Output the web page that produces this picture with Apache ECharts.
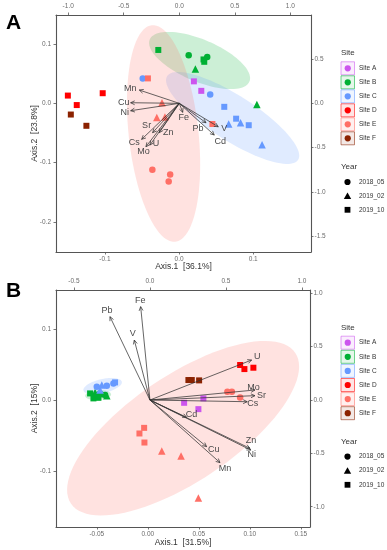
<!DOCTYPE html>
<html><head><meta charset="utf-8">
<script src="https://cdn.jsdelivr.net/npm/echarts@6/dist/echarts.min.js"></script>
<style>html,body{margin:0;padding:0;background:#fff}#c{width:387px;height:550px}</style>
</head><body><div id="c"></div>
<script>
// ---------- DATA ----------
const sites = ['Site A','Site B','Site C','Site D','Site E','Site F'];
const years = ['2018_05','2019_02','2019_10'];

// Panel A : sample scores
const aX = [-0.028, 0.013, 0.022, 0.033, 0.038, 0.034, 0.105,
            -0.049, 0.042, 0.061, 0.077, 0.067, 0.083, 0.094, 0.112,
            0.020, 0.030,
            -0.150, -0.138, -0.103,
            -0.042, -0.023, -0.030, -0.019, -0.036, -0.012, -0.014, 0.045,
            -0.146, -0.125];
const aY = [0.090, 0.081, 0.058, 0.074, 0.078, 0.070, -0.002,
            0.042, 0.015, -0.006, -0.026, -0.035, -0.033, -0.037, -0.070,
            0.037, 0.021,
            0.013, -0.003, 0.017,
            0.042, 0.001, -0.024, -0.023, -0.112, -0.120, -0.132, -0.035,
            -0.019, -0.038];
const aSite = [1,1,1,1,1,1,1, 2,2,2,2,2,2,2,2, 0,0, 3,3,3, 4,4,4,4,4,4,4,4, 5,5];
const aYear = [2,0,1,2,0,2,1, 0,0,2,2,1,1,2,1, 2,2, 2,2,2, 2,1,1,1,0,0,0,2, 2,2];

// Panel A : variable loadings (arrows)
const aVar = ['Mn','Cu','Ni','Fe','Pb','V','Cd','Sr','Zn','Cs','Mo','U'];
const aVarX = [-0.360,-0.438,-0.438, 0.031, 0.241, 0.351, 0.315,-0.240,-0.180,-0.339,-0.300,-0.264];
const aVarY = [ 0.150, 0.007,-0.083,-0.101,-0.219,-0.264,-0.357,-0.331,-0.331,-0.406,-0.489,-0.470];

// Panel A : ellipses [cx, cy, axisU_x, axisU_y, axisV_x, axisV_y, site]
const aEll = [
  [0.0277, 0.0722, 0.0672,-0.0356,-0.0111,-0.0326, 1],
  [0.0723,-0.0248, 0.0883,-0.0707,-0.0165,-0.0321, 2],
  [-0.0209,-0.0509, 0.0158,-0.1827,-0.0468,-0.0063, 4]
];

// Panel B : sample scores
const bX = [-0.0566,-0.0517,-0.0468,-0.0419,-0.0533,-0.0484,-0.0402,
            -0.0500,-0.0451,-0.0402,-0.0337,-0.0321,-0.0468,
            0.0356, 0.0545, 0.0496,
            0.0905, 0.0947, 0.1035,
            0.0780, 0.0824, 0.0905,-0.0036,-0.0082,-0.0033, 0.0137, 0.0326, 0.0496,
            0.0398, 0.0431, 0.0503];
const bY = [0.0097, 0.0111, 0.0083, 0.0073, 0.0027, 0.0035, 0.0063,
            0.0190, 0.0214, 0.0204, 0.0238, 0.0252, 0.0144,
           -0.0035, 0.0027,-0.0124,
            0.0496, 0.0439, 0.0458,
            0.0120, 0.0120, 0.0040,-0.0387,-0.0466,-0.0593,-0.0711,-0.0782,-0.1373,
            0.0285, 0.0285, 0.0280];
const bSite = [1,1,1,1,1,1,1, 2,2,2,2,2,2, 0,0,0, 3,3,3, 4,4,4,4,4,4,4,4,4, 5,5,5];
const bYear = [2,1,2,0,2,2,1, 0,1,0,0,2,1, 2,2,2, 2,2,2, 0,0,0,2,2,2,1,1,1, 2,2,2];

const bVar = ['Pb','Fe','V','U','Mo','Sr','Cs','Cd','Cu','Mn','Zn','Ni'];
const bVarX = [-0.263,-0.061,-0.103, 0.669, 0.691, 0.691, 0.640, 0.241, 0.373, 0.461, 0.658, 0.664];
const bVarY = [ 0.781, 0.875, 0.562, 0.375, 0.094, 0.041,-0.016,-0.162,-0.437,-0.587,-0.453,-0.469];

const bEll = [
  [-0.0487, 0.0073, 0.0127, 0.0010, 0.0000,-0.0070, 1],
  [-0.0443, 0.0200, 0.0188, 0.0061, 0.0015,-0.0096, 2],
  [ 0.0346,-0.0392, 0.1100, 0.1058, 0.0289,-0.0620, 4]
];

// tick values
const aBottomTicks = [-0.1, 0, 0.1];
const aLeftTicks = [-0.2, -0.1, 0, 0.1];
const aTopTicks = [-1, -0.5, 0, 0.5, 1];
const aRightTicks = [-1.5, -1, -0.5, 0, 0.5];
const bBottomTicks = [-0.05, 0, 0.05, 0.10, 0.15];
const bLeftTicks = [-0.1, 0, 0.1];
const bTopTicks = [-0.5, 0, 0.5, 1];
const bRightTicks = [-1, -0.5, 0, 0.5, 1];
const aXTitle = 'Axis.1  [36.1%]', aYTitle = 'Axis.2  [23.8%]';
const bXTitle = 'Axis.1  [31.5%]', bYTitle = 'Axis.2  [15%]';

// ---------- STYLE ----------
const siteColors = ['#CC55EE','#00B034','#6699FF','#FF0000','#FF6F66','#8B2200'];
const yearSymbols = ['circle','triangle','rect'];
const yearSizes = [6.5, 7.5, 6];
const FONT = 'Liberation Sans, Arial, Helvetica, sans-serif';
const labelOffA = {Mn:[-9,-1.5],Cu:[-7,0],Ni:[-6,1.5],Fe:[1,5],Pb:[-8,5.5],V:[6,1.5],Cd:[6,6.5],
                   Sr:[-6,-7],Zn:[9,0],Cs:[-7.5,3],Mo:[-2.5,4.5],U:[6,-1.5]};
const labelOffB = {Pb:[-3,-6],Fe:[-0.5,-6.5],V:[-1.5,-6.5],U:[5.5,-3.5],Mo:[-1.5,-2.5],Sr:[6.5,0],
                   Cs:[5.5,2],Cd:[5,-2.5],Cu:[7,2.5],Mn:[5,6],Zn:[1,-7.5],Ni:[1,4.5]};

function rgba(hex, a){
  const n = parseInt(hex.slice(1),16);
  return 'rgba('+(n>>16&255)+','+(n>>8&255)+','+(n&255)+','+a+')';
}

function axisCommon(ticks, dec, pos, margin){
  return {
    position: pos, scale: true,
    axisLine: {show:true, onZero:false, lineStyle:{color:'#555', width:1.1}},
    axisTick: {show:true, inside:false, length:2.5, customValues: ticks, lineStyle:{color:'#555', width:0.8}},
    axisLabel: {show:true, customValues: ticks, margin: margin, color:'#6b6b6b', fontSize:6.5, fontFamily:FONT,
                formatter: v => (Math.abs(v) < 1e-9 ? 0 : v).toFixed(dec)},
    splitLine: {show:false},
    nameMoveOverlap: false
  };
}

function ellipseSeries(data, xi, yi){
  return {
    type:'custom', xAxisIndex:xi, yAxisIndex:yi, z:1, clip:true,
    data: data,
    renderItem: function(params, api){
      const cx=api.value(0), cy=api.value(1), ux=api.value(2), uy=api.value(3), vx=api.value(4), vy=api.value(5);
      const pts=[];
      for(let k=0;k<96;k++){
        const t=k/96*2*Math.PI;
        pts.push(api.coord([cx+ux*Math.cos(t)+vx*Math.sin(t), cy+uy*Math.cos(t)+vy*Math.sin(t)]));
      }
      return {type:'polygon', shape:{points:pts}, style:{fill: rgba(siteColors[api.value(6)], 0.2)}};
    }
  };
}

function arrowSeries(names, xs, ys, offs, xi, yi){
  return {
    type:'custom', xAxisIndex:xi, yAxisIndex:yi, z:5, clip:false,
    data: xs.map((x,i)=>[x, ys[i]]),
    renderItem: function(params, api){
      const name = names[params.dataIndex];
      const p0 = api.coord([0,0]), p1 = api.coord([api.value(0), api.value(1)]);
      const ang = Math.atan2(p1[1]-p0[1], p1[0]-p0[0]);
      const L = 4.5, w = Math.PI/7;
      const h1 = [p1[0]-L*Math.cos(ang-w), p1[1]-L*Math.sin(ang-w)];
      const h2 = [p1[0]-L*Math.cos(ang+w), p1[1]-L*Math.sin(ang+w)];
      const o = offs[name] || [0,0];
      return {type:'group', children:[
        {type:'line', shape:{x1:p0[0],y1:p0[1],x2:p1[0],y2:p1[1]}, style:{stroke:'#333', lineWidth:0.75}},
        {type:'polyline', shape:{points:[h1,p1,h2]}, style:{stroke:'#333', lineWidth:0.75, fill:null}},
        {type:'text', x:p1[0]+o[0], y:p1[1]+o[1], style:{text:name, fill:'#4a4a4a', fontSize:9, fontFamily:FONT, align:'center', verticalAlign:'middle'}}
      ]};
    }
  };
}

function scatterSeries(X, Y, S, Yr, xi, yi){
  return sites.map((s, si) => ({
    type:'scatter', name:s, xAxisIndex:xi, yAxisIndex:yi, z:3,
    data: X.map((x,i)=>[x, Y[i], Yr[i], S[i]]).filter(d=>d[3]===si),
    symbol: v => yearSymbols[v[2]],
    symbolSize: v => yearSizes[v[2]],
    itemStyle: {color: siteColors[si], opacity:1},
    emphasis: {disabled:true}
  }));
}

function legendGraphics(top0, siteTitleY, yearTitleY, siteStep, yearStep){
  const g = [];
  const lx = 341;
  g.push({type:'text', left:lx, top:siteTitleY-5, style:{text:'Site', fill:'#333', fontSize:8, fontFamily:FONT}});
  sites.forEach((s,i)=>{
    const cy = top0 + i*siteStep;
    g.push({type:'rect', shape:{x:lx, y:cy-6.5, width:13.5, height:13}, style:{fill:rgba(siteColors[i],0.1), stroke:rgba(siteColors[i],0.55), lineWidth:1}});
    g.push({type:'circle', shape:{cx:lx+6.75, cy:cy, r:3.1}, style:{fill:siteColors[i]}});
    g.push({type:'text', x:359, y:cy, style:{text:s, fill:'#333', fontSize:6.5, fontFamily:FONT, verticalAlign:'middle'}});
  });
  g.push({type:'text', left:lx, top:yearTitleY-5, style:{text:'Year', fill:'#333', fontSize:8, fontFamily:FONT}});
  years.forEach((y,i)=>{
    const cy = yearTitleY + 14.3 + i*yearStep;
    const cx = lx+6.5;
    if(i===0) g.push({type:'circle', shape:{cx:cx, cy:cy, r:3.1}, style:{fill:'#000'}});
    if(i===1) g.push({type:'polygon', shape:{points:[[cx,cy-3.4],[cx+3.7,cy+3],[cx-3.7,cy+3]]}, style:{fill:'#000'}});
    if(i===2) g.push({type:'rect', shape:{x:cx-2.9, y:cy-2.9, width:5.8, height:5.8}, style:{fill:'#000'}});
    g.push({type:'text', x:359, y:cy, style:{text:y, fill:'#333', fontSize:6.5, fontFamily:FONT, verticalAlign:'middle'}});
  });
  return g;
}

const chart = echarts.init(document.getElementById('c'), null, {renderer:'canvas'});
const nameStyle = {color:'#333', fontSize:8.5, fontFamily:FONT};

const option = {
  animation:false,
  backgroundColor:'#fff',
  grid:[
    {left:56, top:15, width:255, height:237, show:false},
    {left:56, top:290, width:254, height:237, show:false}
  ],
  xAxis:[
    Object.assign(axisCommon(aBottomTicks,1,'bottom',4), {gridIndex:0, min:-0.166, max:0.178, name:aXTitle, nameLocation:'middle', nameGap:10.5, nameTextStyle:nameStyle}),
    Object.assign(axisCommon(aTopTicks,1,'top',5), {gridIndex:0, min:-1.11, max:1.186}),
    Object.assign(axisCommon(bBottomTicks,2,'bottom',4), {gridIndex:1, min:-0.090, max:0.159, name:bXTitle, nameLocation:'middle', nameGap:11, nameTextStyle:nameStyle}),
    Object.assign(axisCommon(bTopTicks,1,'top',5), {gridIndex:1, min:-0.618, max:1.053})
  ],
  yAxis:[
    Object.assign(axisCommon(aLeftTicks,1,'left',5), {gridIndex:0, min:-0.251, max:0.149, name:aYTitle, nameLocation:'middle', nameGap:17, nameTextStyle:nameStyle}),
    Object.assign(axisCommon(aRightTicks,1,'right',3.5), {gridIndex:0, min:-1.676, max:0.996}),
    Object.assign(axisCommon(bLeftTicks,1,'left',5), {gridIndex:1, min:-0.178, max:0.155, name:bYTitle, nameLocation:'middle', nameGap:17, nameTextStyle:nameStyle}),
    Object.assign(axisCommon(bRightTicks,1,'right',3.5), {gridIndex:1, min:-1.19, max:1.031})
  ],
  series: [].concat(
    [ellipseSeries(aEll,0,0)],
    scatterSeries(aX,aY,aSite,aYear,0,0),
    [arrowSeries(aVar,aVarX,aVarY,labelOffA,1,1)],
    [ellipseSeries(bEll,2,2)],
    scatterSeries(bX,bY,bSite,bYear,2,2),
    [arrowSeries(bVar,bVarX,bVarY,labelOffB,3,3)]
  ),
  graphic: [].concat(
    [{type:'text', left:6, top:12.5, style:{text:'A', fill:'#000', fontSize:21, fontWeight:'bold', fontFamily:FONT}},
     {type:'text', left:6, top:281, style:{text:'B', fill:'#000', fontSize:21, fontWeight:'bold', fontFamily:FONT}}],
    legendGraphics(68.3, 54, 167.7, 14, 13.9),
    legendGraphics(342.7, 328.3, 442.3, 14.1, 14.1)
  )
};
chart.setOption(option);
</script></body></html>
